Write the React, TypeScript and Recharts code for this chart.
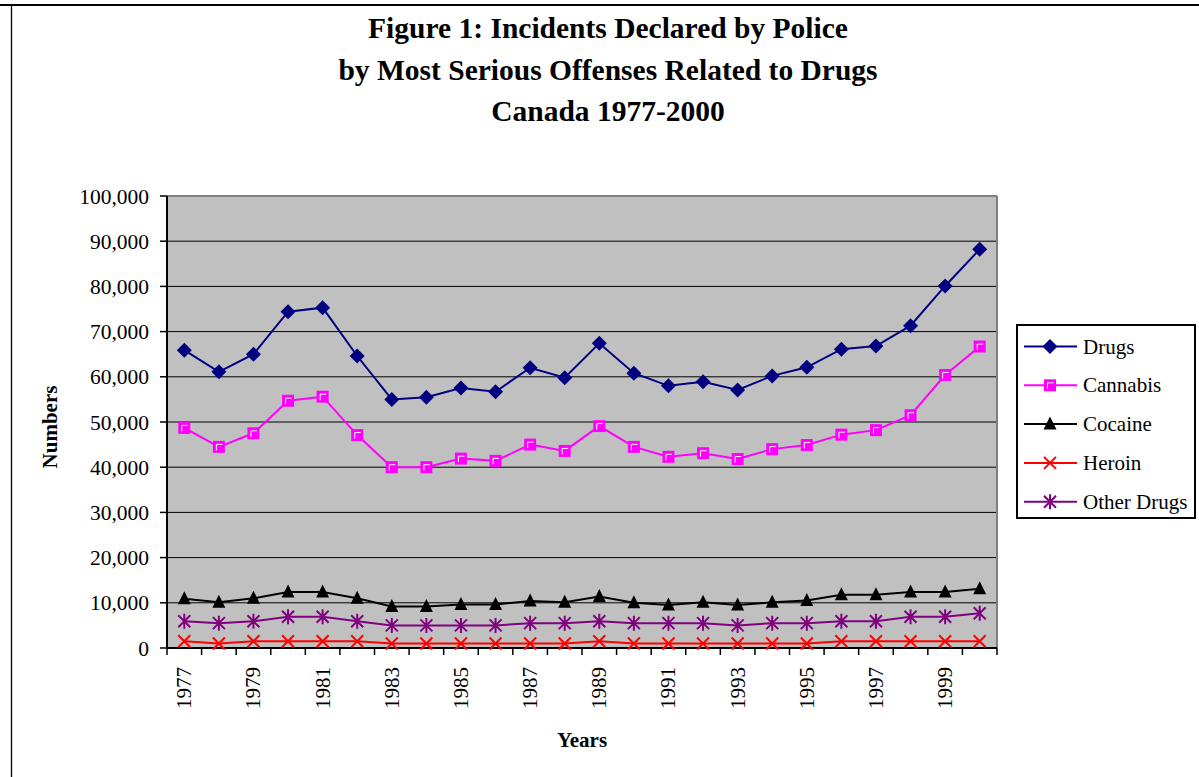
import React from "react";
import {
  CartesianGrid,
  Line,
  LineChart,
  ReferenceLine,
  XAxis,
  YAxis,
} from "recharts";

// years on the category axis
const YEARS = [
  1977, 1978, 1979, 1980, 1981, 1982, 1983, 1984, 1985, 1986, 1987, 1988,
  1989, 1990, 1991, 1992, 1993, 1994, 1995, 1996, 1997, 1998, 1999, 2000,
];

// series values
const DRUGS = [
  65900, 61100, 65000, 74400, 75300, 64600, 55000, 55500, 57500, 56700, 62000,
  59800, 67400, 60800, 58000, 58900, 57100, 60200, 62100, 66100, 66800, 71300,
  80100, 88200,
];
const CANNABIS = [
  48700, 44500, 47500, 54700, 55600, 47100, 40000, 40000, 41900, 41400, 45000,
  43600, 49100, 44500, 42300, 43100, 41800, 44000, 44900, 47200, 48200, 51500,
  60400, 66700,
];
const COCAINE = [
  10900, 10100, 11000, 12400, 12400, 11000, 9200, 9200, 9600, 9600, 10400,
  10100, 11400, 10000, 9500, 10100, 9500, 10100, 10500, 11800, 11800, 12400,
  12400, 13100,
];
const HEROIN = [
  1500, 1000, 1500, 1500, 1500, 1500, 1000, 1000, 1000, 1000, 1000, 1000, 1500,
  1000, 1000, 1000, 1000, 1000, 1000, 1500, 1500, 1500, 1500, 1500,
];
const OTHER_DRUGS = [
  5900, 5500, 5900, 6900, 6900, 5900, 5000, 5000, 5000, 5000, 5500, 5500, 5900,
  5500, 5500, 5500, 5000, 5500, 5500, 5900, 5900, 6900, 6900, 7700,
];

// tick labels
const Y_TICKS = [
  0, 10000, 20000, 30000, 40000, 50000, 60000, 70000, 80000, 90000, 100000,
];
const X_LABEL_YEARS = [
  1977, 1979, 1981, 1983, 1985, 1987, 1989, 1991, 1993, 1995, 1997, 1999,
];

const TITLE_LINES = [
  "Figure 1: Incidents Declared by Police",
  "by Most Serious Offenses Related to Drugs",
  "Canada 1977-2000",
];

const FONT = "'Liberation Serif', 'Times New Roman', serif";

type MarkerKind = "diamond" | "square" | "triangle" | "x" | "star";

const SERIES: { key: string; name: string; color: string; marker: MarkerKind }[] = [
  { key: "drugs", name: "Drugs", color: "#000080", marker: "diamond" },
  { key: "cannabis", name: "Cannabis", color: "#FF00FF", marker: "square" },
  { key: "cocaine", name: "Cocaine", color: "#000000", marker: "triangle" },
  { key: "heroin", name: "Heroin", color: "#FF0000", marker: "x" },
  { key: "other", name: "Other Drugs", color: "#800080", marker: "star" },
];

const data = YEARS.map((year, i) => ({
  year,
  drugs: DRUGS[i],
  cannabis: CANNABIS[i],
  cocaine: COCAINE[i],
  heroin: HEROIN[i],
  other: OTHER_DRUGS[i],
}));

// tick marks sit between the years (excel style), labels on odd years
const X_BOUNDS = YEARS.map((y) => y - 0.5).concat([2000.5]);
const X_TICKS = [...X_BOUNDS, ...X_LABEL_YEARS].sort((a, b) => a - b);

function Marker({ kind, cx, cy, color }: { kind: MarkerKind; cx: number; cy: number; color: string }) {
  if (cx == null || cy == null) return null;
  switch (kind) {
    case "diamond":
      return (
        <path
          d={`M ${cx},${cy - 7.5} L ${cx + 7.5},${cy} L ${cx},${cy + 7.5} L ${cx - 7.5},${cy} Z`}
          fill={color}
        />
      );
    case "square":
      return (
        <g>
          <rect x={cx - 6} y={cy - 6} width={12} height={12} fill={color} />
          <path
            d={`M ${cx - 2.5},${cy + 3.5} L ${cx - 2.5},${cy - 2.5} L ${cx + 3.5},${cy - 2.5}`}
            stroke="#FFFFFF"
            strokeWidth={1}
            fill="none"
          />
        </g>
      );
    case "triangle":
      return (
        <path
          d={`M ${cx},${cy - 7.5} L ${cx + 6.5},${cy + 5.5} L ${cx - 6.5},${cy + 5.5} Z`}
          fill={color}
        />
      );
    case "x":
      return (
        <path
          d={`M ${cx - 6},${cy - 6} L ${cx + 6},${cy + 6} M ${cx + 6},${cy - 6} L ${cx - 6},${cy + 6}`}
          stroke={color}
          strokeWidth={2}
        />
      );
    case "star":
      return (
        <path
          d={`M ${cx - 6},${cy - 6} L ${cx + 6},${cy + 6} M ${cx + 6},${cy - 6} L ${cx - 6},${cy + 6} M ${cx},${cy - 7.5} L ${cx},${cy + 7.5}`}
          stroke={color}
          strokeWidth={2}
        />
      );
  }
  return null;
}

function XTick(props: any) {
  const { x, y, payload } = props;
  const v = payload.value as number;
  if (v % 1 !== 0) {
    return <line x1={x} y1={y} x2={x} y2={y + 7} stroke="#000" strokeWidth={1.5} />;
  }
  if (v % 2 === 1) {
    const tx = x + 7;
    const ty = y + 19;
    return (
      <text
        x={tx}
        y={ty}
        transform={`rotate(-90, ${tx}, ${ty})`}
        textAnchor="end"
        fontFamily={FONT}
        fontSize={21}
        fill="#000"
      >
        {v}
      </text>
    );
  }
  return <g />;
}

export default function App() {
  return (
    <div style={{ position: "absolute", left: 0, top: 0, width: 1199, height: 777, background: "#fff" }}>
      <LineChart
        width={1199}
        height={777}
        data={data}
        margin={{ top: 196, right: 202, bottom: 0, left: 0 }}
      >
        <CartesianGrid vertical={false} fill="#C0C0C0" stroke="#000" strokeWidth={1} />
        <XAxis
          type="number"
          dataKey="year"
          domain={[1976.5, 2000.5]}
          ticks={X_TICKS}
          interval={0}
          tickLine={false}
          tickSize={0}
          tickMargin={0}
          axisLine={{ stroke: "#000", strokeWidth: 2 }}
          tick={<XTick />}
          height={129}
        />
        <YAxis
          domain={[0, 100000]}
          ticks={Y_TICKS}
          interval={0}
          width={167}
          tickSize={7}
          tickMargin={11}
          tickLine={{ stroke: "#000", strokeWidth: 1.5 }}
          axisLine={{ stroke: "#000", strokeWidth: 2 }}
          tickFormatter={(v: number) => v.toLocaleString("en-US")}
          tick={{ fontFamily: FONT, fontSize: 21.5, fill: "#000" }}
        />
        <ReferenceLine y={100000} stroke="#808080" strokeWidth={2} />
        <ReferenceLine x={2000.5} stroke="#808080" strokeWidth={2} />
        {SERIES.map((s) => (
          <Line
            key={s.key}
            type="linear"
            dataKey={s.key}
            name={s.name}
            stroke={s.color}
            strokeWidth={2}
            isAnimationActive={false}
            activeDot={false}
            dot={(p: any) => (
              <Marker key={`${s.key}-${p.index}`} kind={s.marker} cx={p.cx} cy={p.cy} color={s.color} />
            )}
          />
        ))}
      </LineChart>

      <svg
        width={1199}
        height={777}
        style={{ position: "absolute", left: 0, top: 0, pointerEvents: "none" }}
      >
        {/* page frame */}
        <line x1={0} y1={5} x2={1199} y2={5} stroke="#000" strokeWidth={2} />
        <line x1={11.5} y1={5} x2={11.5} y2={777} stroke="#000" strokeWidth={1.3} />

        {TITLE_LINES.map((t, i) => (
          <text
            key={t}
            x={608}
            y={38 + i * 41.5}
            textAnchor="middle"
            fontFamily={FONT}
            fontWeight="bold"
            fontSize={29.5}
            fill="#000"
          >
            {t}
          </text>
        ))}

        <text
          x={57}
          y={427}
          transform="rotate(-90, 57, 427)"
          textAnchor="middle"
          fontFamily={FONT}
          fontWeight="bold"
          fontSize={21}
          fill="#000"
        >
          Numbers
        </text>
        <text x={582} y={747} textAnchor="middle" fontFamily={FONT} fontWeight="bold" fontSize={21} fill="#000">
          Years
        </text>

        {/* legend */}
        <rect x={1017} y={325} width={178} height={193} fill="#fff" stroke="#000" strokeWidth={2} />
        {SERIES.map((s, i) => {
          const cy = 346.5 + i * 38.8;
          return (
            <g key={s.key}>
              <line x1={1024} y1={cy} x2={1077} y2={cy} stroke={s.color} strokeWidth={2} />
              <Marker kind={s.marker} cx={1050} cy={cy} color={s.color} />
              <text x={1083} y={cy + 7} fontFamily={FONT} fontSize={21} fill="#000">
                {s.name}
              </text>
            </g>
          );
        })}
      </svg>
    </div>
  );
}
